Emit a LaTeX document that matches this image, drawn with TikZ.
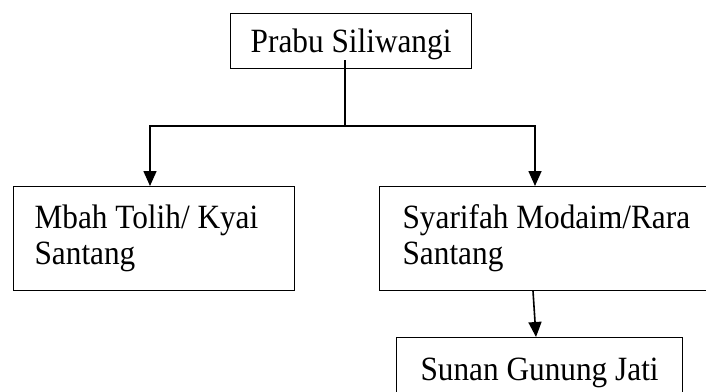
\documentclass[tikz,border=0pt]{standalone}
\usepackage{fontspec}
\setmainfont[FakeStretch=0.92]{Liberation Serif}
\usetikzlibrary{arrows.meta}

\begin{document}
\begin{tikzpicture}[x=1pt,y=-1pt,
        famblock/.style={draw, line width=1.2pt, anchor=north west, align=flush left,
            font=\fontsize{34}{36}\selectfont, inner ysep=0pt},
        linkarrow/.style={line width=1.6pt, -{Triangle[length=15pt,width=13pt]}}]
        \useasboundingbox (0,0) rectangle (706,391);
        \clip (0,0) rectangle (706,391);
        % family boxes
        \node[famblock, align=center, inner xsep=0pt, text depth=0pt, minimum width=241pt, minimum height=55pt] (prabu) at (230,13) {Prabu Siliwangi};
        \node[famblock, text width=239pt, inner xsep=21pt, minimum height=104pt] (mbah) at (13,186) {Mbah Tolih/ Kyai\\Santang};
        \node[famblock, text width=310pt, inner xsep=23pt, minimum height=104pt] (syarifah) at (379,186) {Syarifah Modaim/Rara\\Santang};
        \node[famblock, align=center, inner xsep=0pt, text depth=0pt, minimum width=286pt, minimum height=63pt] (sunan) at (396,337) {Sunan Gunung Jati};
        % links
        \coordinate (stem) at (345,60);
        \coordinate (busleft) at (150,126);
        \coordinate (busright) at (535,126);
        \draw[linkarrow] (stem) |- (busleft) -- (busleft |- mbah.north);
        \draw[linkarrow] (stem) |- (busright) -- (busright |- syarifah.north);
        \draw[linkarrow] ([xshift=-2pt]syarifah.south -| busright) -- ([xshift=1pt]sunan.north -| busright);
    \end{tikzpicture}
\end{document}
